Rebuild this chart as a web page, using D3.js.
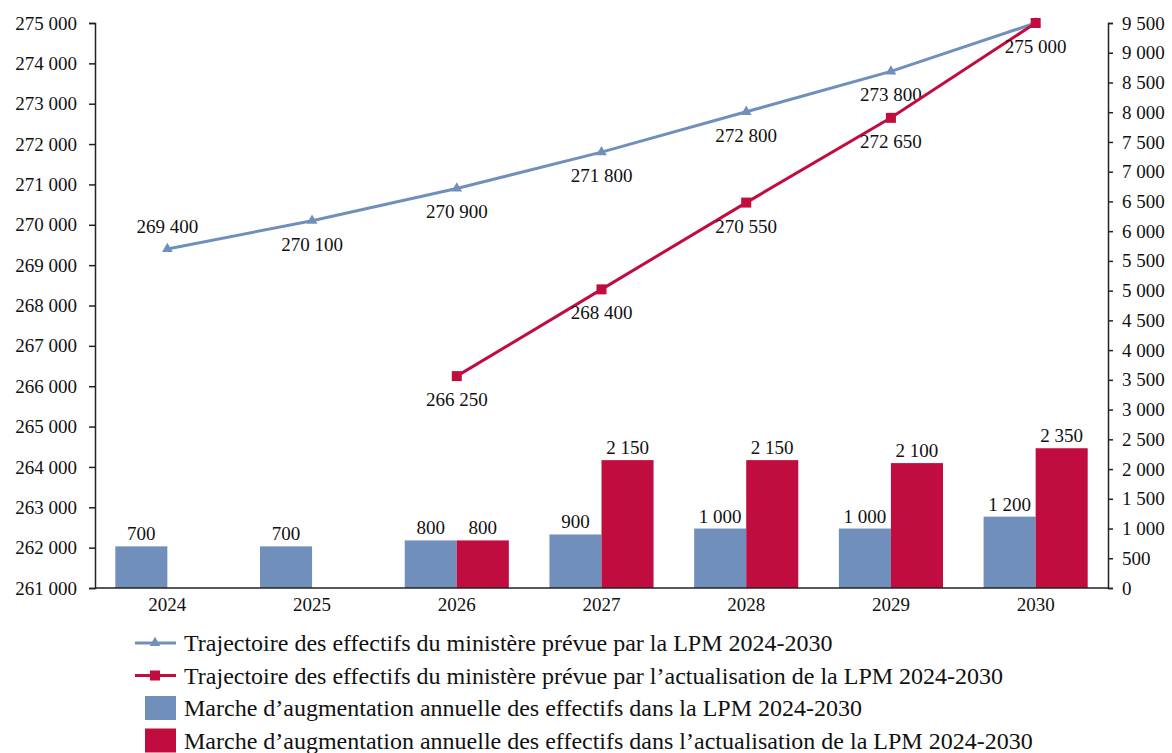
<!DOCTYPE html>
<html>
<head>
<meta charset="utf-8">
<script src="https://cdn.jsdelivr.net/npm/d3@7"></script>
<style>
  body { margin: 0; background: #fff; }
  svg text { font-family: "Palatino Linotype", "Book Antiqua", Palatino, "Liberation Serif", serif; fill: #111; }
</style>
</head>
<body>
<svg id="chart" width="1172" height="753"></svg>
<script>
// data
var years = ["2024", "2025", "2026", "2027", "2028", "2029", "2030"];
var lpmTrajectory = [269400, 270100, 270900, 271800, 272800, 273800, 275000];
var updTrajectory = [null, null, 266250, 268400, 270550, 272650, 275000];
var lpmSteps = [700, 700, 800, 900, 1000, 1000, 1200];
var updSteps = [null, null, 800, 2150, 2150, 2100, 2350];
var leftTicks = d3.range(261000, 275001, 1000);
var rightTicks = d3.range(0, 9501, 500);
var legendLabels = [
  "Trajectoire des effectifs du ministère prévue par la LPM 2024-2030",
  "Trajectoire des effectifs du ministère prévue par l\u2019actualisation de la LPM 2024-2030",
  "Marche d\u2019augmentation annuelle des effectifs dans la LPM 2024-2030",
  "Marche d\u2019augmentation annuelle des effectifs dans l\u2019actualisation de la LPM 2024-2030"
];

var BLUE = "#7090bb", RED = "#c00c3f";
var FONT = "\"Palatino Linotype\", \"Book Antiqua\", Palatino, \"Liberation Serif\", serif";
var fmt = function (v) { return d3.format(",")(v).replace(/,/g, " "); };

var svg = d3.select("#chart");
var pLeft = 95, pRight = 1108, pTop = 23, pBottom = 588;

var x = d3.scaleBand().domain(years).range([pLeft, pRight]).padding(0);
var xs = d3.scaleBand().domain(["lpm", "upd"]).range([0, x.bandwidth()]).paddingOuter(0.39).paddingInner(0);
var yL = d3.scaleLinear().domain([261000, 275000]).range([pBottom, pTop]);
var yR = d3.scaleLinear().domain([0, 9500]).range([pBottom, pTop]);

// bars
var barSeries = [
  {key: "lpm", vals: lpmSteps, color: BLUE},
  {key: "upd", vals: updSteps, color: RED}
];
barSeries.forEach(function (s) {
  var d = years.map(function (yr, i) { return {yr: yr, v: s.vals[i]}; }).filter(function (e) { return e.v != null; });
  svg.append("g").selectAll("rect").data(d).enter().append("rect")
    .attr("x", function (e) { return x(e.yr) + xs(s.key); })
    .attr("width", xs.bandwidth())
    .attr("y", function (e) { return yR(e.v); })
    .attr("height", function (e) { return pBottom - yR(e.v); })
    .attr("fill", s.color);
  svg.append("g").selectAll("text").data(d).enter().append("text")
    .attr("x", function (e) { return x(e.yr) + xs(s.key) + xs.bandwidth() / 2; })
    .attr("y", function (e) { return yR(e.v) - 6; })
    .attr("text-anchor", "middle")
    .style("font-size", "19px")
    .text(function (e) { return fmt(e.v); });
});

// axes
var axL = svg.append("g").attr("transform", "translate(" + pLeft + ",0)")
  .call(d3.axisLeft(yL).tickValues(leftTicks).tickSize(6).tickPadding(12).tickFormat(fmt));
var axR = svg.append("g").attr("transform", "translate(" + pRight + ",0)")
  .call(d3.axisRight(yR).tickValues(rightTicks).tickSize(5).tickPadding(9).tickFormat(fmt));
var axB = svg.append("g").attr("transform", "translate(0," + pBottom + ")")
  .call(d3.axisBottom(x).tickSize(0).tickPadding(10));
[axL, axR, axB].forEach(function (a) {
  a.select(".domain").attr("stroke", "#222").attr("stroke-width", 1.5);
  a.selectAll(".tick line").attr("stroke", "#222").attr("stroke-width", 1.5);
  a.selectAll("text").style("font-size", "19px").attr("fill", "#111").style("font-family", FONT);
});
axB.select(".domain").attr("d", "M" + pLeft + ",0H" + pRight);

// lines
var cx = function (yr) { return x(yr) + x.bandwidth() / 2; };
var line = d3.line().defined(function (e) { return e.v != null; })
  .x(function (e) { return cx(e.yr); }).y(function (e) { return yL(e.v); });
var triangle = d3.symbol().type(d3.symbolTriangle).size(50);

var lineSeries = [
  {vals: lpmTrajectory, color: BLUE, marker: "tri", labelDy: function (i) { return i === 0 ? -16 : 30; }, skipLabel: [6]},
  {vals: updTrajectory, color: RED, marker: "sq", labelDy: function () { return 30; }, skipLabel: []}
];
lineSeries.forEach(function (s) {
  var d = years.map(function (yr, i) { return {yr: yr, v: s.vals[i], i: i}; });
  svg.append("path").datum(d).attr("d", line)
    .attr("fill", "none").attr("stroke", s.color).attr("stroke-width", 3);
  var pts = d.filter(function (e) { return e.v != null; });
  if (s.marker === "tri") {
    svg.append("g").selectAll("path").data(pts).enter().append("path")
      .attr("d", triangle)
      .attr("transform", function (e) { return "translate(" + cx(e.yr) + "," + yL(e.v) + ")"; })
      .attr("fill", s.color);
  } else {
    svg.append("g").selectAll("rect").data(pts).enter().append("rect")
      .attr("x", function (e) { return cx(e.yr) - 5; })
      .attr("y", function (e) { return yL(e.v) - 5; })
      .attr("width", 10).attr("height", 10)
      .attr("fill", s.color);
  }
  svg.append("g").selectAll("text").data(pts.filter(function (e) { return s.skipLabel.indexOf(e.i) < 0; }))
    .enter().append("text")
    .attr("x", function (e) { return cx(e.yr); })
    .attr("y", function (e) { return yL(e.v) + s.labelDy(e.i); })
    .attr("text-anchor", "middle")
    .style("font-size", "19px")
    .text(function (e) { return fmt(e.v); });
});

// legend
var lg = svg.append("g");
legendLabels.forEach(function (lab, i) {
  var yy = 643 + i * 32.5;
  var col = (i % 2 === 0) ? BLUE : RED;
  if (i < 2) {
    lg.append("line").attr("x1", 135).attr("x2", 176).attr("y1", yy).attr("y2", yy)
      .attr("stroke", col).attr("stroke-width", 3);
    if (i === 0) {
      lg.append("path").attr("d", triangle).attr("transform", "translate(155," + yy + ")").attr("fill", col);
    } else {
      lg.append("rect").attr("x", 150).attr("y", yy - 5).attr("width", 10).attr("height", 10).attr("fill", col);
    }
  } else {
    lg.append("rect").attr("x", 145).attr("y", yy - 12).attr("width", 31).attr("height", 24).attr("fill", col);
  }
  lg.append("text").attr("x", 184).attr("y", yy + 8).style("font-size", "24px").text(lab);
});
</script>
</body>
</html>
